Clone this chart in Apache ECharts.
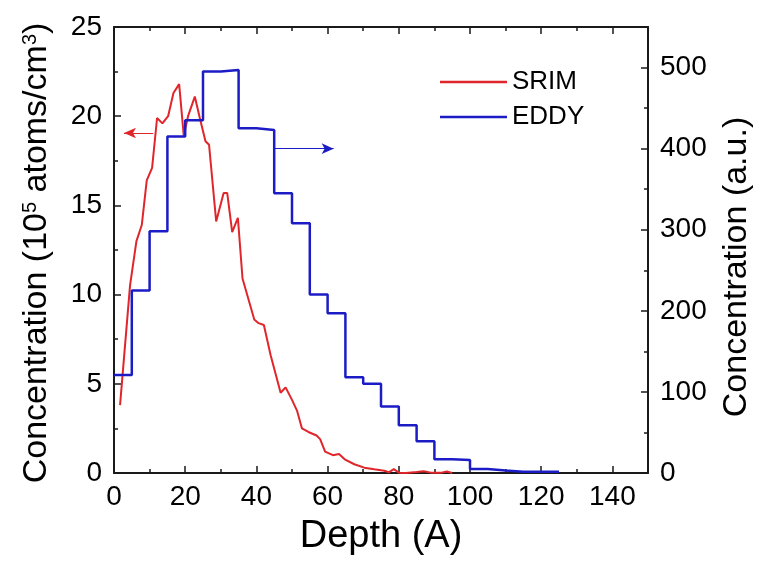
<!DOCTYPE html>
<html>
<head>
<meta charset="utf-8">
<script src="https://cdn.jsdelivr.net/npm/echarts@6/dist/echarts.min.js"></script>
<style>
html,body{margin:0;padding:0;background:#fff;}
#chart{width:762px;height:569px;}
</style>
</head>
<body>
<div id="chart"></div>
<script>
// SRIM profile (depth in Å, concentration in 10^5 atoms/cm^3) – left axis
const srimDepth = [1.7,4.5,6.3,7.8,9.2,10.7,12.1,13.6,15.2,16.7,18.3,19.6,20.8,22.7,24.1,25.7,26.7,28.7,30.8,31.8,33.2,34.8,36.1,39.4,40.6,42.1,44.0,46.8,48.2,50.0,51.4,52.8,54.6,56.9,57.9,59.3,61.5,63.2,64.8,67.5,70.3,73.1,75.9,77.2,78.6,80.0,82.0,85.0,87.0,89.0,92.0,93.5,95.0];
const srimConc  = [3.8,10.5,13.0,13.9,16.4,17.1,19.9,19.6,20.0,21.3,21.8,18.9,20.0,21.1,19.9,18.6,18.4,14.1,15.7,15.7,13.5,14.3,10.9,8.6,8.4,8.3,6.6,4.5,4.8,4.1,3.5,2.5,2.3,2.1,1.9,1.2,1.0,1.07,0.77,0.49,0.30,0.21,0.13,0.04,0.22,0.02,0.0,0.05,0.1,0.02,0.02,0.08,0.0];
// EDDY histogram (bin start depth in Å, concentration in a.u.) – right axis
const eddyDepth = [0,5,10,15,20,25,30,35,40,45,50,55,60,65,70,75,80,85,90,95,100,105,110,115,120,125];
const eddyConc  = [121,225,298,415,435,495,497,425,423,345,308,220,197,118,110,82,59,39,17,16,5,3,1.6,1.6,1.6,1.6];
// axis ticks
const xMin = 0, xMax = 150, xMajor = 20, xMinor = 10;
const yLeftMin = 0, yLeftMax = 25, yLeftMajor = 5;
const yRightMin = 0, yRightMax = 550, yRightMajor = 100, yRightMinor = 50;
// annotation arrows
const srimArrow = {from:[11, 19.06], to:[2.8, 19.06]};
const eddyArrow = {from:[44.8, 400], to:[61.7, 400]};

const FONT = 'Liberation Sans, Arial, sans-serif';
const RED = '#e0262b';
const BLUE = '#1c1cc6';
const AX = '#1a1a1a';

const chart = echarts.init(document.getElementById('chart'), null, {renderer:'canvas'});

function xAx(pos, interval, len, labels, line, extra) {
  return Object.assign({
    type:'value', position:pos, min:xMin, max:xMax, interval:interval,
    axisLine:{show:line, onZero:false, lineStyle:{color:AX, width:2}},
    axisTick:{show:true, inside:true, length:len, lineStyle:{color:AX, width:1.5}},
    axisLabel:{show:labels, margin:10, fontSize:28, color:'#000', fontFamily:FONT,
      formatter: v => (v % 20 === 0 ? String(v) : '')},
    splitLine:{show:false}
  }, extra || {});
}

const supRich = {sup:{fontSize:20, verticalAlign:'top', lineHeight:20, fontFamily:FONT, color:'#000'}};

const option = {
  animation:false,
  backgroundColor:'#fff',
  grid:{left:114, right:106, top:27, bottom:96, containLabel:false},
  legend:{
    orient:'vertical', left:435, top:64, itemWidth:67, itemHeight:2.5, itemGap:9, icon:'rect',
    textStyle:{fontSize:26, lineHeight:26, color:'#000', fontFamily:FONT},
    data:['SRIM','EDDY']
  },
  xAxis:[
    xAx('bottom', xMajor, 7, true, true, {name:'Depth (A)', nameLocation:'middle', nameGap:45,
      nameTextStyle:{fontSize:38, color:'#000', fontFamily:FONT}}),
    xAx('top', xMajor, 7, false, true),
    xAx('bottom', xMinor, 4, false, false),
    xAx('top', xMinor, 4, false, false)
  ],
  yAxis:[
    {type:'value', position:'left', min:yLeftMin, max:yLeftMax, interval:yLeftMajor,
      name:'Concentration (10{sup|5} atoms/cm{sup|3})', nameLocation:'middle', nameGap:60, nameRotate:90,
      nameTextStyle:{fontSize:34, color:'#000', fontFamily:FONT, padding:[0,6,0,0], rich:supRich},
      axisLine:{show:true, onZero:false, lineStyle:{color:AX, width:2}},
      axisTick:{show:true, inside:true, length:7, lineStyle:{color:AX, width:1.5}},
      minorTick:{show:true, splitNumber:2, length:4, lineStyle:{color:AX, width:1.5}},
      axisLabel:{margin:12, fontSize:28, color:'#000', fontFamily:FONT},
      splitLine:{show:false}, minorSplitLine:{show:false}},
    {type:'value', position:'right', min:yRightMin, max:yRightMax, interval:yRightMajor,
      name:'Concentration (a.u.)', nameLocation:'middle', nameGap:72, nameRotate:90,
      nameTextStyle:{fontSize:34, color:'#000', fontFamily:FONT, padding:[0,34,0,0]},
      axisLine:{show:true, onZero:false, lineStyle:{color:AX, width:2}},
      axisTick:{show:true, inside:true, length:7, lineStyle:{color:AX, width:1.5}},
      axisLabel:{margin:12, fontSize:28, color:'#000', fontFamily:FONT,
        formatter: v => (v % 100 === 0 && v <= 500 ? String(v) : '')},
      splitLine:{show:false}},
    {type:'value', position:'right', min:yRightMin, max:yRightMax, interval:yRightMinor,
      axisLine:{show:false, onZero:false},
      axisTick:{show:true, inside:true, length:4, lineStyle:{color:AX, width:1.5}},
      axisLabel:{show:false}, splitLine:{show:false}}
  ],
  series:[
    {name:'SRIM', type:'line', xAxisIndex:0, yAxisIndex:0, symbol:'none', z:2,
      color:RED, lineStyle:{color:RED, width:2},
      data: srimDepth.map((d,i)=>[d, srimConc[i]]),
      markLine:{silent:true, symbol:['none','arrow'], symbolSize:[8,12],
        lineStyle:{color:RED, width:1, type:'solid'}, label:{show:false},
        data:[[{coord:srimArrow.from},{coord:srimArrow.to}]]}
    },
    {name:'EDDY', type:'line', xAxisIndex:0, yAxisIndex:1, symbol:'none', step:'end', z:3,
      color:BLUE, lineStyle:{color:BLUE, width:2.5},
      data: eddyDepth.map((d,i)=>[d, eddyConc[i]]),
      markLine:{silent:true, symbol:['none','arrow'], symbolSize:[8,12],
        lineStyle:{color:BLUE, width:1, type:'solid'}, label:{show:false},
        data:[[{coord:eddyArrow.from},{coord:eddyArrow.to}]]}
    }
  ]
};
chart.setOption(option);
</script>
</body>
</html>
